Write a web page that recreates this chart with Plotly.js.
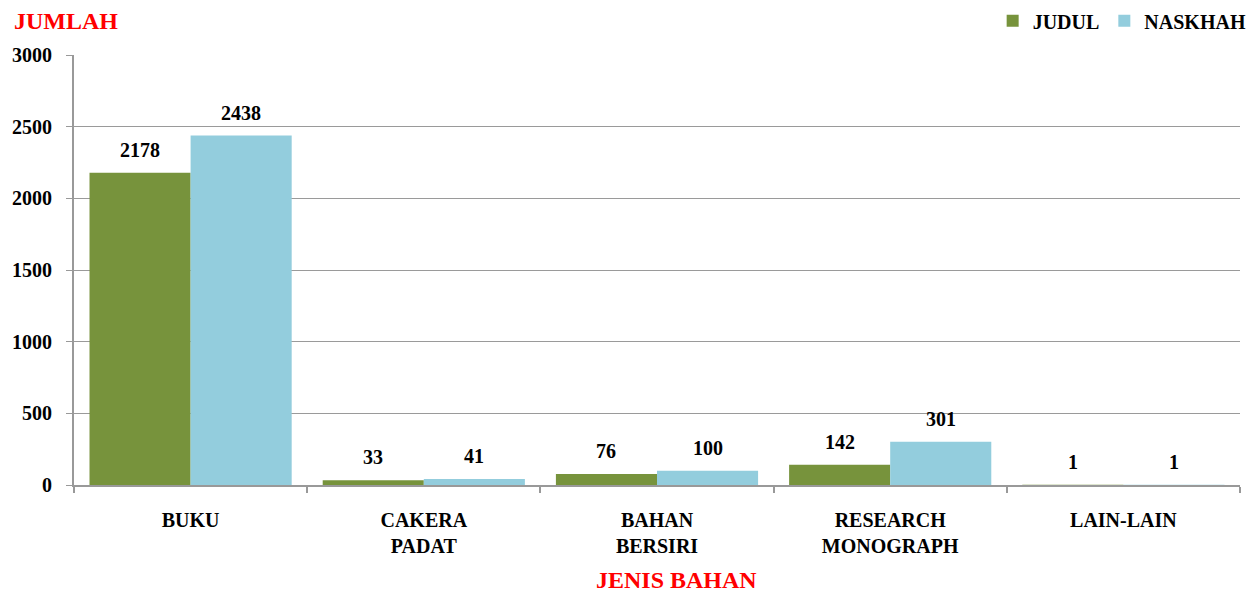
<!DOCTYPE html>
<html>
<head>
<meta charset="utf-8">
<script src="https://cdn.plot.ly/plotly-3.0.1.min.js"></script>
<style>html,body{margin:0;padding:0;background:#fff;}#chart{width:1255px;height:595px;}</style>
</head>
<body>
<div id="chart"></div>
<script>
const categories = ["BUKU", "CAKERA<br>PADAT", "BAHAN<br>BERSIRI", "RESEARCH<br>MONOGRAPH", "LAIN-LAIN"];
const judul = [2178, 33, 76, 142, 1];
const naskhah = [2438, 41, 100, 301, 1];
const seriesNames = ["JUDUL", "NASKHAH"];
const yTicks = [0, 500, 1000, 1500, 2000, 2500, 3000];

const FONT = "Liberation Serif, DejaVu Serif, serif";
const GREEN = "#77933C", BLUE = "#93CDDD";
const BARGAP = 0.133;
const half = (1 - BARGAP) / 4;
const FS = 20;

const traces = [
  {type: "bar", name: seriesNames[0], x: categories, y: judul, marker: {color: GREEN}, hoverinfo: "x+y"},
  {type: "bar", name: seriesNames[1], x: categories, y: naskhah, marker: {color: BLUE}, hoverinfo: "x+y"}
];

const annotations = [];
[judul, naskhah].forEach((vals, s) => {
  vals.forEach((v, i) => {
    annotations.push({
      x: i + (s === 0 ? -half : half), y: v, xref: "x", yref: "y",
      text: String(v), showarrow: false, yanchor: "bottom", yshift: 10,
      font: {family: FONT, size: FS, color: "#000", weight: "bold"}
    });
  });
});
annotations.push({
  xref: "paper", yref: "paper", x: -0.053, y: 1.0, xanchor: "left", yanchor: "middle", yshift: 34,
  text: "JUMLAH", showarrow: false, font: {family: FONT, size: 24, color: "#FF0000", weight: "bold"}
});
annotations.push({
  xref: "paper", yref: "paper", x: 0.517, y: 0, xanchor: "center", yanchor: "middle", yshift: -95,
  text: "JENIS BAHAN", showarrow: false, font: {family: FONT, size: 24, color: "#FF0000", weight: "bold"}
});

const layout = {
  width: 1255, height: 595,
  margin: {l: 74, r: 15, t: 55, b: 110, autoexpand: false},
  paper_bgcolor: "#fff", plot_bgcolor: "#fff",
  barmode: "group", bargap: BARGAP, bargroupgap: 0,
  font: {family: FONT, size: FS, color: "#000", weight: "bold"},
  showlegend: true,
  legend: {orientation: "h", x: 1.01, xanchor: "right", y: 1.125, yanchor: "top",
           font: {family: FONT, size: FS, color: "#000", weight: "bold"}, itemwidth: 30, tracegroupgap: 0},
  xaxis: {type: "category", showgrid: false, showline: true, linecolor: "#999", linewidth: 2,
          ticks: "outside", tickson: "boundaries", ticklen: 6, tickcolor: "#999", tickwidth: 2,
          ticklabelstandoff: 16, zeroline: false, mirror: false,
          tickfont: {family: FONT, size: FS, color: "#000", weight: "bold"}},
  yaxis: {range: [0, 3000], tickvals: yTicks, ticktext: yTicks.map(String), showgrid: true, gridcolor: "#9a9a9a", gridwidth: 1,
          showline: true, linecolor: "#999", linewidth: 2, ticks: "outside", ticklen: 6, tickcolor: "#999", tickwidth: 1,
          ticklabelstandoff: 10, zeroline: false,
          tickfont: {family: FONT, size: FS, color: "#000", weight: "bold"}},
  annotations: annotations
};

Plotly.newPlot("chart", traces, layout, {displayModeBar: false, staticPlot: true});
</script>
</body>
</html>
